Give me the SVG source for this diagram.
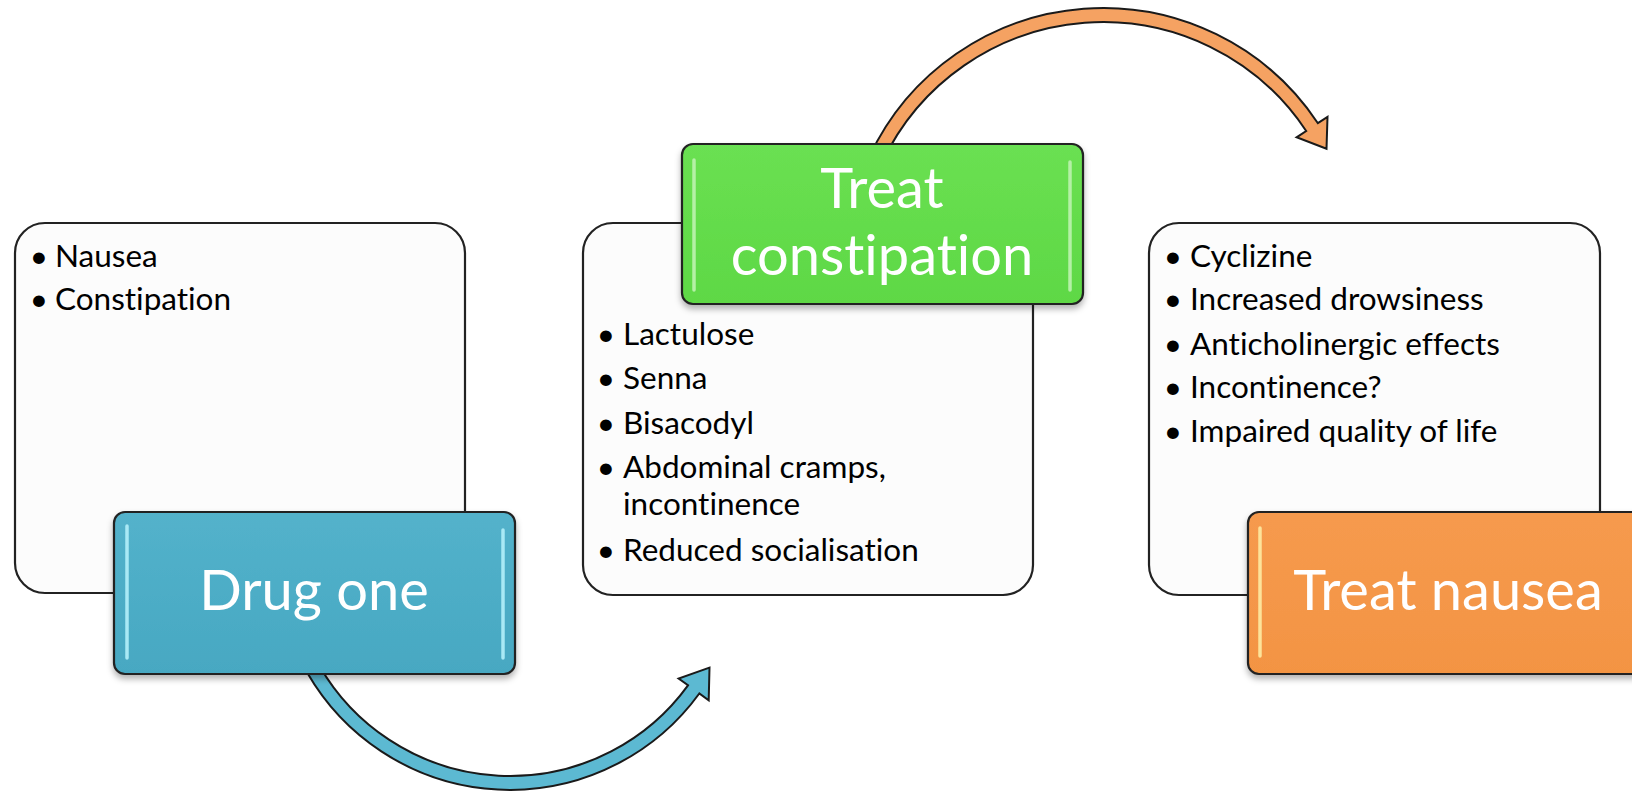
<svg xmlns="http://www.w3.org/2000/svg" width="1632" height="793" viewBox="0 0 1632 793">
<defs>
<style>
.panel{fill:#fcfcfc;stroke:#222;stroke-width:2.2}
.head{stroke:#222;stroke-width:2.2}
.ht{font-family:Lato,"Open Sans",sans-serif;font-size:56px;fill:#ffffff;text-anchor:middle;font-variant-ligatures:none}
.bt{font-family:Lato,"Open Sans",sans-serif;font-size:31.5px;fill:#000000;font-variant-ligatures:none}
.bul{font-family:Lato,"Open Sans",sans-serif;font-size:31.5px;fill:#000000;text-anchor:middle}
.arrow{stroke:#1a1a1a;stroke-width:2;stroke-linejoin:miter}
.strip{stroke-width:3.5;stroke-linecap:round}
</style>
<filter id="sh" x="-10%" y="-10%" width="120%" height="130%">
<feDropShadow dx="0" dy="4" stdDeviation="3" flood-color="#000" flood-opacity="0.3"/>
</filter>
<linearGradient id="gBlue" x1="0" y1="0" x2="0" y2="1">
<stop offset="0" stop-color="#53b2cb"/><stop offset="1" stop-color="#47a8c2"/>
</linearGradient>
<linearGradient id="gGreen" x1="0" y1="0" x2="0" y2="1">
<stop offset="0" stop-color="#6ae052"/><stop offset="1" stop-color="#5ed845"/>
</linearGradient>
<linearGradient id="gOrange" x1="0" y1="0" x2="0" y2="1">
<stop offset="0" stop-color="#f69a4e"/><stop offset="1" stop-color="#f39443"/>
</linearGradient>
</defs>

<g id="panel-drug-one">
<rect class="panel" x="15" y="223" width="450" height="370" rx="30" ry="30"/>
<text class="bul" x="39" y="267">•</text><text class="bt" x="55" y="267">Nausea</text>
<text class="bul" x="39" y="310">•</text><text class="bt" x="55" y="310">Constipation</text>
</g>

<g id="panel-treat-constipation">
<rect class="panel" x="583" y="223" width="450" height="372" rx="30" ry="30"/>
<text class="bul" x="606" y="345">•</text><text class="bt" x="623" y="345">Lactulose</text>
<text class="bul" x="606" y="389">•</text><text class="bt" x="623" y="389">Senna</text>
<text class="bul" x="606" y="434">•</text><text class="bt" x="623" y="434">Bisacodyl</text>
<text class="bul" x="606" y="478">•</text><text class="bt" x="623" y="478">Abdominal cramps,</text>
<text class="bt" x="623" y="515">incontinence</text>
<text class="bul" x="606" y="561">•</text><text class="bt" x="623" y="561">Reduced socialisation</text>
</g>

<g id="panel-treat-nausea">
<rect class="panel" x="1149" y="223" width="451" height="372" rx="30" ry="30"/>
<text class="bul" x="1173" y="267">•</text><text class="bt" x="1190" y="267">Cyclizine</text>
<text class="bul" x="1173" y="310">•</text><text class="bt" x="1190" y="310">Increased drowsiness</text>
<text class="bul" x="1173" y="355">•</text><text class="bt" x="1190" y="355">Anticholinergic effects</text>
<text class="bul" x="1173" y="398">•</text><text class="bt" x="1190" y="398">Incontinence?</text>
<text class="bul" x="1173" y="442">•</text><text class="bt" x="1190" y="442">Impaired quality of life</text>
</g>

<g id="connectors">
<path class="arrow" fill="#5cb9d2" d="M307.4,673 A234,234 0 0 0 699.3,693.5 L708.7,700.4 L709.5,667.6 L678.6,678.5 L688,685.3 A220,220 0 0 1 319.5,666 Z"/>
<path class="arrow" fill="#f5a262" d="M869.2,157 A258,258 0 0 1 1317.9,123.2 L1327.5,116.9 L1326.5,148.8 L1296.6,137.3 L1306.2,131 A244,244 0 0 0 881.9,162.9 Z"/>
</g>

<g id="node-drug-one">
<rect class="head" x="114" y="512" width="401" height="162" rx="11" ry="11" fill="url(#gBlue)" filter="url(#sh)"/>
<line class="strip" x1="127" y1="526" x2="127" y2="658" stroke="#a9e9f5"/>
<line class="strip" x1="503" y1="530" x2="503" y2="658" stroke="#a9e9f5"/>
<text class="ht" x="314" y="610">Drug one</text>
</g>

<g id="node-treat-constipation">
<rect class="head" x="682" y="144" width="401" height="160" rx="11" ry="11" fill="url(#gGreen)" filter="url(#sh)"/>
<line class="strip" x1="694" y1="160" x2="694" y2="290" stroke="#b5f0a6"/>
<line class="strip" x1="1070" y1="162" x2="1070" y2="290" stroke="#b5f0a6"/>
<text class="ht" x="882" y="208">Treat</text>
<text class="ht" x="882" y="275">constipation</text>
</g>

<g id="node-treat-nausea">
<rect class="head" x="1248" y="512" width="401" height="162" rx="11" ry="11" fill="url(#gOrange)" filter="url(#sh)"/>
<line class="strip" x1="1260" y1="528" x2="1260" y2="656" stroke="#fde39a"/>
<text class="ht" x="1448" y="610">Treat nausea</text>
</g>
</svg>
